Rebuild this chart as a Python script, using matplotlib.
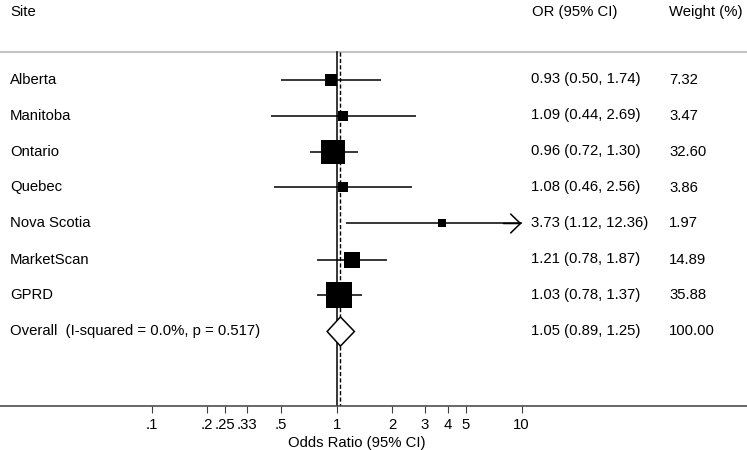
import matplotlib
matplotlib.use("Agg")
import matplotlib.pyplot as plt
from matplotlib.patches import Polygon
import numpy as np

plt.rcParams['font.family'] = ['Liberation Sans', 'DejaVu Sans']

# ---- data ----
sites = ["Alberta", "Manitoba", "Ontario", "Quebec", "Nova Scotia", "MarketScan", "GPRD"]
or_vals = [0.93, 1.09, 0.96, 1.08, 3.73, 1.21, 1.03]
ci_low = [0.50, 0.44, 0.72, 0.46, 1.12, 0.78, 0.78]
ci_high = [1.74, 2.69, 1.30, 2.56, 12.36, 1.87, 1.37]
weights = [7.32, 3.47, 32.60, 3.86, 1.97, 14.89, 35.88]

overall_label = "Overall  (I-squared = 0.0%, p = 0.517)"
overall_or = 1.05
overall_low = 0.89
overall_high = 1.25
overall_weight = 100.00

header_site = "Site"
header_or = "OR (95% CI)"
header_weight = "Weight (%)"
xlabel = "Odds Ratio (95% CI)"

tick_values = [0.1, 0.2, 0.25, 0.33, 0.5, 1, 2, 3, 4, 5, 10]
tick_labels = [".1", ".2", ".25", ".33", ".5", "1", "2", "3", "4", "5", "10"]

# ---- figure ----
W, H = 747, 450
fig = plt.figure(figsize=(W / 100, H / 100), dpi=100)
axis_px = 406
ax = fig.add_axes([0, (H - axis_px) / H, 1, axis_px / H])
ax.set_xscale('log')

x1_px, dec_px = 336.5, 185.0
ax.set_xlim(10 ** (-x1_px / dec_px), 10 ** ((W - x1_px) / dec_px))
row0_px, row_px = 79.5, 36.0
ax.set_ylim((axis_px - row0_px) / row_px, -row0_px / row_px)

for s in ['left', 'right', 'top']:
    ax.spines[s].set_visible(False)
ax.spines['bottom'].set_color('#404040')
ax.spines['bottom'].set_linewidth(1.1)
ax.set_yticks([])
ax.set_xticks(tick_values)
ax.set_xticklabels(tick_labels)
ax.xaxis.set_minor_locator(matplotlib.ticker.NullLocator())
ax.tick_params(axis='x', direction='out', length=5, width=0.8, color='#404040',
               labelsize=10.7, pad=3.5, labelcolor='black')

fs = 10.7
txt = ax.get_yaxis_transform()
header_row = (12 - row0_px) / row_px
line_row = (52 - row0_px) / row_px
bottom_row = (axis_px - row0_px) / row_px

ax.text(10 / W, header_row, header_site, transform=txt, fontsize=fs, va='center', ha='left')
ax.text(532 / W, header_row, header_or, transform=txt, fontsize=fs, va='center', ha='left')
ax.text(669 / W, header_row, header_weight, transform=txt, fontsize=fs, va='center', ha='left')

ax.plot([0, 1], [line_row, line_row], transform=txt, color='#c4c4c4', lw=1.5,
        solid_capstyle='butt', clip_on=False)

# vertical reference lines
ax.plot([1, 1], [line_row, bottom_row], color='black', lw=1.1)
ax.plot([overall_or, overall_or], [line_row, bottom_row], color='black', lw=1.0,
        linestyle=(0, (3, 1.6)))

xclip = max(tick_values)
for i, (name, o, lo, hi, w) in enumerate(zip(sites, or_vals, ci_low, ci_high, weights)):
    if hi > xclip:
        ax.plot([lo, xclip], [i, i], color='black', lw=1.1, solid_capstyle='butt')
        ax.annotate('', xy=(xclip, i), xytext=(xclip * 0.8, i),
                    arrowprops=dict(arrowstyle='->,head_length=0.7,head_width=0.68',
                                    color='black', lw=1.1, shrinkA=0, shrinkB=0),
                    fontsize=10)
    else:
        ax.plot([lo, hi], [i, i], color='black', lw=1.1, solid_capstyle='butt')
    side_px = 3.9 * np.sqrt(w) + 1.8
    ax.plot([o], [i], marker='s', color='black', markersize=side_px * 0.72,
            markeredgewidth=0, linestyle='none', zorder=3)
    ax.text(10 / W, i, name, transform=txt, fontsize=fs, va='center', ha='left')
    ax.text(531 / W, i, f"{o:.2f} ({lo:.2f}, {hi:.2f})", transform=txt, fontsize=fs,
            va='center', ha='left')
    ax.text(669 / W, i, f"{w:.2f}", transform=txt, fontsize=fs, va='center', ha='left')

r = len(sites)
h = 0.405
dia = Polygon([(overall_low, r), (overall_or, r - h), (overall_high, r), (overall_or, r + h)],
              closed=True, facecolor='white', edgecolor='black', lw=1.1, zorder=4)
ax.add_patch(dia)
ax.text(10 / W, r, overall_label, transform=txt, fontsize=fs, va='center', ha='left')
ax.text(531 / W, r, f"{overall_or:.2f} ({overall_low:.2f}, {overall_high:.2f})",
        transform=txt, fontsize=fs, va='center', ha='left')
ax.text(669 / W, r, f"{overall_weight:.2f}", transform=txt, fontsize=fs, va='center', ha='left')

fig.text(357 / W, 1 - 442.5 / H, xlabel, fontsize=fs, ha='center', va='center')

fig.savefig('out.png', dpi=100, facecolor='white')
